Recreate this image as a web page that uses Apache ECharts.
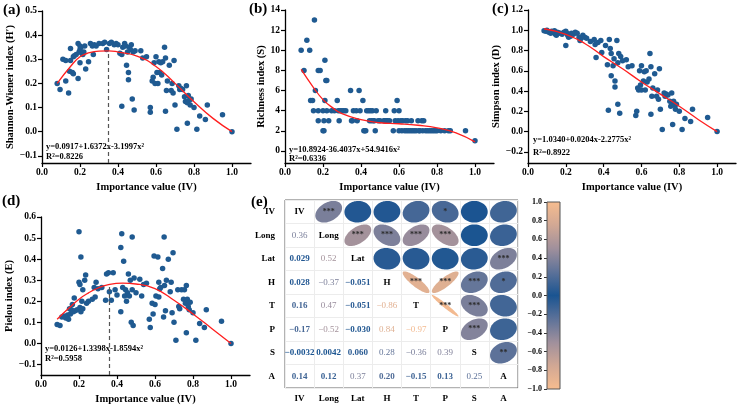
<!DOCTYPE html>
<html>
<head>
<meta charset="utf-8">
<script src="https://cdn.jsdelivr.net/npm/echarts@6/dist/echarts.min.js"></script>
<style>
  html, body { margin: 0; padding: 0; background: #fff; }
  #main { width: 744px; height: 406px; }
</style>
</head>
<body>
<div id="main"></div>
<script>
// ---- data ----
var shannonPts = [[0.08,0.20],[0.095,0.175],[0.11,0.30],[0.125,0.295],[0.125,0.21],[0.14,0.16],[0.145,0.25],[0.15,0.345],[0.15,0.295],[0.16,0.245],[0.165,0.24],[0.165,0.31],[0.17,0.315],[0.18,0.32],[0.19,0.365],[0.19,0.22],[0.195,0.33],[0.2,0.34],[0.2,0.285],[0.2,0.355],[0.205,0.35],[0.21,0.325],[0.215,0.32],[0.22,0.33],[0.225,0.355],[0.23,0.26],[0.245,0.29],[0.255,0.365],[0.265,0.355],[0.27,0.32],[0.275,0.36],[0.285,0.355],[0.3,0.365],[0.32,0.365],[0.33,0.37],[0.34,0.34],[0.355,0.365],[0.365,0.37],[0.38,0.36],[0.39,0.365],[0.4,0.36],[0.41,0.325],[0.42,0.32],[0.42,0.105],[0.425,0.35],[0.435,0.365],[0.44,0.355],[0.445,0.275],[0.45,0.33],[0.455,0.245],[0.455,0.215],[0.46,0.35],[0.465,0.34],[0.47,0.36],[0.475,0.135],[0.48,0.33],[0.485,0.09],[0.49,0.335],[0.52,0.335],[0.53,0.305],[0.55,0.31],[0.57,0.1],[0.57,0.08],[0.58,0.21],[0.585,0.225],[0.59,0.285],[0.595,0.2],[0.6,0.31],[0.605,0.245],[0.61,0.2],[0.615,0.29],[0.62,0.245],[0.625,0.285],[0.63,0.235],[0.635,0.29],[0.645,0.35],[0.65,0.305],[0.65,0.085],[0.655,0.17],[0.66,0.21],[0.67,0.275],[0.68,0.17],[0.685,0.2],[0.69,0.16],[0.695,0.295],[0.7,0.11],[0.71,0.01],[0.72,0.19],[0.725,0.175],[0.73,0.18],[0.74,0.175],[0.75,0.145],[0.755,0.125],[0.76,0.19],[0.765,0.12],[0.765,0.035],[0.77,0.15],[0.775,0.13],[0.78,0.11],[0.785,0.135],[0.8,0.1],[0.815,0.01],[0.83,0.065],[0.86,0.05],[0.87,0.11],[0.95,0.07],[1.0,0.0]];
var shannonFit = [[0.08,0.2],[0.15,0.27],[0.2,0.31],[0.25,0.327],[0.3,0.334],[0.35,0.335],[0.4,0.33],[0.5,0.313],[0.6,0.27],[0.7,0.2],[0.8,0.124],[0.9,0.055],[1.0,0.0]];

var richnessPts = [[0.085,10],[0.1,8],[0.115,11],[0.13,10],[0.135,5],[0.145,5],[0.15,4],[0.155,13],[0.16,6],[0.175,8],[0.185,8],[0.175,4],[0.175,3],[0.2,2],[0.205,2],[0.2,4],[0.205,3],[0.21,5],[0.21,9],[0.215,7],[0.22,7],[0.22,4],[0.23,3],[0.245,4],[0.26,4],[0.275,5],[0.28,4],[0.285,3],[0.29,4],[0.3,4],[0.31,4],[0.32,4],[0.345,6],[0.35,3],[0.355,3],[0.36,4],[0.375,4],[0.38,3],[0.39,6],[0.395,4],[0.41,5],[0.415,2],[0.42,2],[0.43,4],[0.425,2],[0.44,4],[0.445,3],[0.45,4],[0.455,3],[0.46,4],[0.465,3],[0.47,3],[0.475,2],[0.48,4],[0.49,3],[0.5,3],[0.52,3],[0.525,3],[0.53,4],[0.535,3],[0.54,3],[0.55,3],[0.57,2],[0.575,4],[0.58,3],[0.59,5],[0.595,3],[0.6,4],[0.6,2],[0.61,3],[0.615,2],[0.62,3],[0.63,2],[0.635,3],[0.64,2],[0.645,3],[0.65,2],[0.66,2],[0.665,3],[0.67,2],[0.68,2],[0.69,2],[0.7,3],[0.705,2],[0.71,2],[0.72,3],[0.725,2],[0.73,3],[0.74,2],[0.75,2],[0.76,2],[0.77,2],[0.78,2],[0.79,2],[0.8,2],[0.82,2],[0.84,2],[0.86,2],[0.87,2],[0.95,2],[1.0,1]];
var richnessFit = [[0.085,8.1],[0.15,6.3],[0.2,5.1],[0.25,4.3],[0.3,3.7],[0.4,3.1],[0.5,2.8],[0.6,2.7],[0.7,2.55],[0.8,2.3],[0.9,1.8],[1.0,0.9]];

var simpsonPts = [[0.085,0.995],[0.095,0.99],[0.1,1.0],[0.11,0.98],[0.12,0.97],[0.125,0.99],[0.13,0.985],[0.14,0.995],[0.145,0.96],[0.15,0.95],[0.155,0.98],[0.16,0.975],[0.17,0.97],[0.18,0.96],[0.19,0.98],[0.2,0.85],[0.2,0.99],[0.205,0.97],[0.21,0.95],[0.215,0.93],[0.22,0.96],[0.225,0.94],[0.23,0.97],[0.24,0.96],[0.25,0.98],[0.26,0.97],[0.27,0.93],[0.275,0.9],[0.28,0.92],[0.29,0.95],[0.3,0.93],[0.31,0.92],[0.33,0.89],[0.35,0.91],[0.355,0.86],[0.36,0.73],[0.37,0.88],[0.385,0.9],[0.39,0.78],[0.41,0.85],[0.42,0.66],[0.425,0.21],[0.43,0.91],[0.435,0.82],[0.44,0.77],[0.44,0.55],[0.45,0.65],[0.455,0.72],[0.46,0.44],[0.46,0.5],[0.47,0.9],[0.475,0.68],[0.475,0.27],[0.48,0.77],[0.485,0.18],[0.49,0.74],[0.5,0.7],[0.52,0.71],[0.53,0.64],[0.55,0.65],[0.57,0.16],[0.575,0.2],[0.58,0.43],[0.585,0.41],[0.59,0.6],[0.595,0.46],[0.6,0.65],[0.6,0.41],[0.61,0.5],[0.615,0.59],[0.62,0.41],[0.625,0.6],[0.63,0.49],[0.64,0.52],[0.645,0.77],[0.65,0.64],[0.65,0.17],[0.655,0.35],[0.66,0.43],[0.67,0.57],[0.68,0.35],[0.685,0.41],[0.69,0.32],[0.695,0.62],[0.7,0.22],[0.71,0.02],[0.72,0.38],[0.725,0.35],[0.73,0.37],[0.74,0.36],[0.75,0.3],[0.755,0.25],[0.76,0.38],[0.765,0.27],[0.765,0.07],[0.77,0.3],[0.775,0.26],[0.78,0.22],[0.785,0.27],[0.8,0.2],[0.815,0.02],[0.83,0.13],[0.86,0.1],[0.87,0.22],[0.95,0.14],[1.0,0.0]];
var simpsonFit = [[0.085,1.015],[0.2,0.96],[0.3,0.87],[0.4,0.74],[0.5,0.62],[0.6,0.49],[0.7,0.37],[0.8,0.25],[0.9,0.12],[1.0,0.0]];

var pielouPts = [[0.085,0.09],[0.1,0.085],[0.11,0.125],[0.12,0.13],[0.13,0.12],[0.14,0.135],[0.145,0.115],[0.15,0.165],[0.155,0.14],[0.16,0.16],[0.165,0.185],[0.17,0.15],[0.175,0.215],[0.18,0.155],[0.19,0.16],[0.2,0.53],[0.2,0.29],[0.205,0.28],[0.205,0.17],[0.21,0.41],[0.21,0.15],[0.215,0.2],[0.22,0.255],[0.22,0.165],[0.23,0.3],[0.235,0.325],[0.24,0.19],[0.25,0.2],[0.27,0.21],[0.28,0.265],[0.285,0.22],[0.29,0.29],[0.3,0.26],[0.32,0.265],[0.34,0.205],[0.345,0.33],[0.355,0.335],[0.36,0.245],[0.37,0.205],[0.38,0.335],[0.39,0.255],[0.4,0.23],[0.42,0.455],[0.42,0.15],[0.425,0.52],[0.43,0.265],[0.435,0.39],[0.44,0.225],[0.445,0.255],[0.45,0.2],[0.455,0.24],[0.46,0.33],[0.465,0.225],[0.47,0.3],[0.475,0.1],[0.48,0.505],[0.48,0.255],[0.485,0.085],[0.49,0.31],[0.5,0.24],[0.52,0.305],[0.53,0.225],[0.54,0.28],[0.555,0.285],[0.57,0.115],[0.575,0.075],[0.585,0.19],[0.59,0.14],[0.595,0.415],[0.6,0.185],[0.605,0.225],[0.615,0.41],[0.62,0.29],[0.62,0.22],[0.625,0.26],[0.63,0.265],[0.64,0.355],[0.645,0.125],[0.648,0.505],[0.65,0.275],[0.655,0.155],[0.66,0.3],[0.67,0.4],[0.68,0.245],[0.685,0.29],[0.69,0.145],[0.695,0.43],[0.7,0.1],[0.71,0.015],[0.72,0.255],[0.725,0.175],[0.73,0.165],[0.74,0.255],[0.75,0.21],[0.755,0.255],[0.76,0.19],[0.765,0.05],[0.765,0.275],[0.77,0.21],[0.775,0.175],[0.78,0.16],[0.785,0.195],[0.8,0.145],[0.815,0.015],[0.835,0.095],[0.86,0.075],[0.87,0.16],[0.95,0.105],[1.0,0.0]];
var pielouFit = [[0.085,0.115],[0.15,0.17],[0.2,0.21],[0.25,0.24],[0.3,0.263],[0.35,0.278],[0.43,0.286],[0.5,0.282],[0.6,0.26],[0.7,0.205],[0.8,0.14],[0.9,0.07],[1.0,0.0]];

// peak of the fitted curves (dashed guide)
var shannonPeak = [0.35, 0.335];
var pielouPeak = [0.36, 0.278];

// correlation matrix (lower triangle, row by row) and significance
var varNames = ['IV', 'Long', 'Lat', 'H', 'T', 'P', 'S', 'A'];
var corrLower = [
  [],
  [0.36],
  [0.029, 0.52],
  [0.028, -0.37, -0.051],
  [0.16, 0.47, -0.051, -0.86],
  [-0.17, -0.52, -0.030, 0.84, -0.97],
  [-0.0032, 0.0042, 0.060, 0.28, -0.36, 0.39],
  [0.14, 0.12, 0.37, 0.20, -0.15, 0.13, 0.25]
];
var corrLabels = [
  [],
  ['0.36'],
  ['0.029', '0.52'],
  ['0.028', '\u22120.37', '\u22120.051'],
  ['0.16', '0.47', '\u22120.051', '\u22120.86'],
  ['\u22120.17', '\u22120.52', '\u22120.030', '0.84', '\u22120.97'],
  ['\u22120.0032', '0.0042', '0.060', '0.28', '\u22120.36', '0.39'],
  ['0.14', '0.12', '0.37', '0.20', '\u22120.15', '0.13', '0.25']
];
var sigStars = [
  [],
  ['***'],
  ['', '***'],
  ['', '***', ''],
  ['', '***', '', '***'],
  ['*', '***', '', '***', '***'],
  ['', '', '', '***', '***', '***'],
  ['', '', '***', '*', '', '', '**']
];
var cbarTicks = [1, 0.8, 0.6, 0.4, 0.2, 0, -0.2, -0.4, -0.6, -0.8, -1];

// ---- build ----
var FONT = 'Liberation Serif';
var DOT = '#1f5a91';
var corrColors = ['#f7bd8f', '#d2a894', '#a0909c', '#5d7299', '#1a5491', '#5d7299', '#a0909c', '#d2a894', '#f7bd8f'];
var CBAR = { left: 547, top: 202, width: 13, height: 187 };

function fmt1(v) {
  return (Math.round(v * 10) / 10).toFixed(1).replace('-', '\u2212');
}
function fmt0(v) {
  return String(Math.round(v)).replace('-', '\u2212');
}
// colour of a correlation value on the -1..1 scale
function corrColor(r) {
  return echarts.color.lerp((r + 1) / 2, corrColors);
}

var ellipseData = [], ellipseStars = [], numberData = [], numberText = [], diagData = [];
for (var i = 0; i < varNames.length; i++) {
  diagData.push([i, i]);
  for (var j = 0; j < i; j++) {
    // lower triangle: numbers, upper triangle: ellipses
    numberData.push([j, i, corrLower[i][j]]);
    numberText.push(corrLabels[i][j]);
    ellipseData.push([i, j, corrLower[i][j]]);
    ellipseStars.push(sigStars[i][j]);
  }
}

var grids = [
  { left: 42, top: 11, width: 209, height: 152 },
  { left: 285, top: 10, width: 209, height: 153 },
  { left: 528, top: 10, width: 208, height: 153 },
  { left: 41, top: 217, width: 209, height: 158 },
  { left: 285, top: 200, width: 233, height: 188, show: true, borderColor: '#666', borderWidth: 1 },
  CBAR
];

var nameStyle = { color: '#000', fontFamily: FONT, fontWeight: 'bold', fontSize: 10.5 };

function xAxisFor(idx) {
  return {
    gridIndex: idx, type: 'value', min: 0, max: 1.1, interval: 0.2,
    name: 'Importance value (IV)', nameLocation: 'middle', nameGap: 19, nameTextStyle: nameStyle,
    axisLine: { show: true, onZero: false, lineStyle: { color: '#000', width: 1.3 } },
    axisTick: { show: true, length: 4, lineStyle: { color: '#000', width: 1.2 } },
    splitLine: { show: false },
    axisLabel: { color: '#000', fontFamily: FONT, fontWeight: 'bold', fontSize: 9.5, formatter: fmt1, showMaxLabel: false, margin: 5 }
  };
}
function yAxisFor(idx, name, min, max, split, gap, f) {
  return {
    gridIndex: idx, type: 'value', min: min, max: max, splitNumber: split,
    name: name, nameLocation: 'middle', nameGap: gap, nameTextStyle: nameStyle,
    axisLine: { show: true, onZero: false, lineStyle: { color: '#000', width: 1.3 } },
    axisTick: { show: true, length: 4, lineStyle: { color: '#000', width: 1.2 } },
    splitLine: { show: false },
    axisLabel: { color: '#000', fontFamily: FONT, fontWeight: 'bold', fontSize: 9.5, formatter: f, showMinLabel: false, margin: 5 }
  };
}

function scatterSeries(idx, pts) {
  return {
    type: 'scatter', xAxisIndex: idx, yAxisIndex: idx, data: pts,
    symbolSize: 5.5, itemStyle: { color: DOT, opacity: 1 }, silent: true, z: 3
  };
}
function fitSeries(idx, pts) {
  return {
    type: 'line', xAxisIndex: idx, yAxisIndex: idx, data: pts, smooth: true,
    showSymbol: false, lineStyle: { color: '#ff1f1f', width: 1.3 }, silent: true, z: 4
  };
}
function peakLine(ymin, peak) {
  return {
    silent: true, symbol: ['none', 'none'], label: { show: false },
    lineStyle: { color: '#555', type: [4, 3], width: 1.2 },
    data: [[{ coord: [peak[0], ymin] }, { coord: [peak[0], peak[1]] }]]
  };
}

function catAxis(idx, margin, inverse) {
  return {
    gridIndex: idx, type: 'category', data: varNames, boundaryGap: true, inverse: inverse,
    axisLine: { show: false }, axisTick: { show: false },
    splitLine: { show: true, interval: 0, lineStyle: { color: '#ececec', width: 1 } },
    axisLabel: { color: '#000', fontFamily: FONT, fontWeight: 'bold', fontSize: 9, interval: 0, margin: margin }
  };
}

var sa = fitSeries(0, shannonFit);
sa.markLine = peakLine(-0.13, shannonPeak);
var sd = fitSeries(3, pielouFit);
sd.markLine = peakLine(-0.15, pielouPeak);

function eqText(x, y, txt) {
  return { type: 'text', left: x, top: y, style: { text: txt, font: 'bold 8.5px "' + FONT + '"', fill: '#000' } };
}
function panelTag(x, y, txt) {
  return { type: 'text', left: x, top: y, style: { text: txt, font: 'bold 15px "' + FONT + '"', fill: '#000' } };
}

// colour bar tick labels (top = 1.0), on their own layer
var cbarLabels = cbarTicks.map(function(v) {
  return {
    type: 'text', zlevel: 1, z: 100, x: CBAR.left - 5, y: CBAR.top + (1 - v) / 2 * CBAR.height,
    style: { text: fmt1(v), align: 'right', verticalAlign: 'middle', font: 'bold 8px "' + FONT + '"', fill: '#000' }
  };
});

var option = {
  backgroundColor: '#fff',
  animation: false,
  grid: grids,
  xAxis: [
    xAxisFor(0), xAxisFor(1), xAxisFor(2), xAxisFor(3),
    catAxis(4, 6, false),
    { gridIndex: 5, type: 'value', min: 0, max: 1, show: false }
  ],
  yAxis: [
    yAxisFor(0, "Shannon-Wiener index (H\u2032)", -0.13, 0.5, 6, 23, fmt1),
    yAxisFor(1, 'Richness index (S)', -1.2, 14, 7, 17, fmt0),
    yAxisFor(2, 'Simpson index (D)', -0.31, 1.2, 7, 22, fmt1),
    yAxisFor(3, 'Pielou index (E)', -0.15, 0.6, 7, 22, fmt1),
    catAxis(4, 10, true),
    {
      gridIndex: 5, type: 'value', min: -1, max: 1, interval: 0.2,
      axisLine: { show: false }, splitLine: { show: false },
      axisTick: { show: true, length: 3, lineStyle: { color: '#333' } },
      axisLabel: { show: false }
    }
  ],
  series: [
    scatterSeries(0, shannonPts), sa,
    scatterSeries(1, richnessPts), fitSeries(1, richnessFit),
    scatterSeries(2, simpsonPts), fitSeries(2, simpsonFit),
    scatterSeries(3, pielouPts), sd,
    {
      // upper triangle ellipses
      type: 'custom', xAxisIndex: 4, yAxisIndex: 4, data: ellipseData, silent: true,
      renderItem: function(params, api) {
        var c = api.coord([api.value(0), api.value(1)]);
        var s = api.size([1, 1]);
        var r = api.value(2);
        var d = Math.acos(r);
        var pts = [];
        for (var k = 0; k <= 72; k++) {
          var t = k / 72 * 2 * Math.PI;
          pts.push([c[0] + 0.46 * s[0] * Math.cos(t + d / 2), c[1] - 0.46 * s[1] * Math.cos(t - d / 2)]);
        }
        return {
          type: 'group',
          children: [
            { type: 'polygon', shape: { points: pts }, style: { fill: corrColor(r) } },
            {
              type: 'text', x: c[0], y: c[1],
              style: { text: ellipseStars[params.dataIndex], align: 'center', verticalAlign: 'middle', fill: '#2b2b2b', font: 'bold 8px "' + FONT + '"' }
            }
          ]
        };
      }
    },
    {
      // lower triangle numbers
      type: 'custom', xAxisIndex: 4, yAxisIndex: 4, data: numberData, silent: true,
      renderItem: function(params, api) {
        var c = api.coord([api.value(0), api.value(1)]);
        var r = api.value(2);
        return {
          type: 'text', x: c[0], y: c[1],
          style: {
            text: numberText[params.dataIndex], align: 'center', verticalAlign: 'middle',
            fill: corrColor(r), font: (Math.abs(r) < 0.25 ? 'bold ' : '') + '9px "' + FONT + '"'
          }
        };
      }
    },
    {
      // diagonal names
      type: 'custom', xAxisIndex: 4, yAxisIndex: 4, data: diagData, silent: true,
      renderItem: function(params, api) {
        var c = api.coord([api.value(0), api.value(1)]);
        return {
          type: 'text', x: c[0], y: c[1],
          style: { text: varNames[params.dataIndex], align: 'center', verticalAlign: 'middle', fill: '#000', font: 'bold 9px "' + FONT + '"' }
        };
      }
    },
    {
      // colour bar
      type: 'custom', xAxisIndex: 5, yAxisIndex: 5, data: [[0, 1]], silent: true,
      renderItem: function(params, api) {
        var p0 = api.coord([0, 1]);
        var p1 = api.coord([1, -1]);
        var stops = corrColors.map(function(c, n) {
          return { offset: n / (corrColors.length - 1), color: c };
        });
        return {
          type: 'rect',
          shape: { x: p0[0], y: p0[1], width: p1[0] - p0[0], height: p1[1] - p0[1] },
          style: { fill: new echarts.graphic.LinearGradient(0, 0, 0, 1, stops), stroke: '#555', lineWidth: 1 }
        };
      }
    }
  ],
  graphic: [
    panelTag(3, 3, '(a)'), panelTag(249, 2, '(b)'), panelTag(492, 2, '(c)'),
    panelTag(2, 194, '(d)'), panelTag(251, 195, '(e)'),
    eqText(46, 142, 'y=0.0917+1.6372x-3.1997x\u00b2'), eqText(46, 152, 'R\u00b2=0.8226'),
    eqText(289, 145, 'y=10.8924-36.4037x+54.9416x\u00b2'), eqText(289, 154, 'R\u00b2=0.6336'),
    eqText(533, 135, 'y=1.0340+0.0204x-2.2775x\u00b2'), eqText(533, 148, 'R\u00b2=0.8922'),
    eqText(45, 344, 'y=0.0126+1.3398x-1.8594x\u00b2'), eqText(45, 354, 'R\u00b2=0.5958')
  ].concat(cbarLabels)
};

var myChart = echarts.init(document.getElementById('main'));
myChart.setOption(option);
window.addEventListener('resize', function() {
  myChart.resize();
});
</script>
</body>
</html>
